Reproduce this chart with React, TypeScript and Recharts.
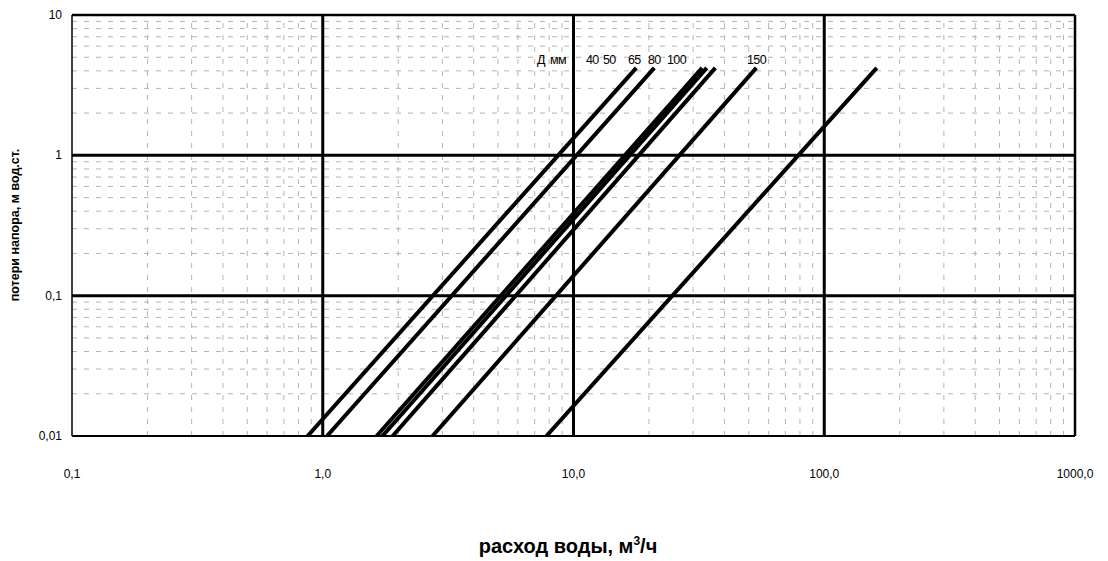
import React from 'react';
import { LineChart, Line, XAxis, YAxis, ReferenceLine } from 'recharts';

// расход воды (м3/ч) at the start (0,01 м) and at the top end of each line
const lineNames = ['40', '50', '65', '80', '80b', '100', '150'];
const flowAtStart = [0.87, 1.04, 1.64, 1.73, 1.9, 2.74, 7.8];
const flowAtEnd = [17.8, 21.0, 32.6, 34.0, 36.8, 53.6, 162];
const lossStart = 0.01;
const lossEnd = 4.2;

const xTicks = [0.1, 1, 10, 100, 1000];
const xTickLabels = ['0,1', '1,0', '10,0', '100,0', '1000,0'];
const yTicks = [0.01, 0.1, 1, 10];
const yTickLabels = ['0,01', '0,1', '1', '10'];

const minorSteps = [2, 3, 4, 5, 6, 7, 8, 9];
const xDecades = [0.1, 1, 10, 100];
const yDecades = [0.01, 0.1, 1];

const legendLabels = [
    { text: 'Д', left: 537 },
    { text: 'мм', left: 550 },
    { text: '40', left: 586 },
    { text: '50', left: 603 },
    { text: '65', left: 628 },
    { text: '80', left: 648 },
    { text: '100', left: 667 },
    { text: '150', left: 747 },
];

const font = '"Liberation Sans", Arial, sans-serif';

const seriesData = lineNames.map((name, i) => ({
    name,
    points: [
        { q: flowAtStart[i], h: lossStart },
        { q: flowAtEnd[i], h: lossEnd },
    ],
}));

const xMinor = xDecades.flatMap((d) => minorSteps.map((m) => d * m));
const yMinor = yDecades.flatMap((d) => minorSteps.map((m) => d * m));

const XTick = ({ x, y, payload }: any) => {
    const idx = xTicks.indexOf(payload.value);
    return (
        <text x={x} y={y + 40} textAnchor="middle" fontSize={12} fontFamily={font} fill="#000">
            {xTickLabels[idx]}
        </text>
    );
};

const YTick = ({ x, y, payload }: any) => {
    const idx = yTicks.indexOf(payload.value);
    return (
        <text x={x} y={y + 4} textAnchor="end" fontSize={12} fontFamily={font} fill="#000">
            {yTickLabels[idx]}
        </text>
    );
};

export default function App() {
    return (
        <div style={{ position: 'absolute', left: 0, top: 0, width: 1108, height: 561, background: '#fff', fontFamily: font }}>
            <LineChart width={1108} height={561} margin={{ top: 15, right: 33, left: 0, bottom: 0 }}>
                <XAxis
                    type="number"
                    dataKey="q"
                    scale="log"
                    domain={[0.1, 1000]}
                    ticks={xTicks}
                    allowDataOverflow
                    axisLine={false}
                    tickLine={false}
                    tickSize={0}
                    height={125}
                    tick={<XTick />}
                />
                <YAxis
                    type="number"
                    dataKey="h"
                    scale="log"
                    domain={[0.01, 10]}
                    ticks={yTicks}
                    allowDataOverflow
                    axisLine={false}
                    tickLine={false}
                    tickSize={0}
                    tickMargin={10}
                    width={72}
                    tick={<YTick />}
                />
                {xMinor.map((v) => (
                    <ReferenceLine key={'xm' + v} x={v} stroke="#b4b4b4" strokeWidth={1} strokeDasharray="5 7" />
                ))}
                {yMinor.map((v) => (
                    <ReferenceLine key={'ym' + v} y={v} stroke="#b4b4b4" strokeWidth={1} strokeDasharray="5 7" />
                ))}
                {[1, 10, 100].map((v) => (
                    <ReferenceLine key={'xM' + v} x={v} stroke="#000" strokeWidth={3} />
                ))}
                {[0.1, 1].map((v) => (
                    <ReferenceLine key={'yM' + v} y={v} stroke="#000" strokeWidth={3} />
                ))}
                <ReferenceLine x={0.1} stroke="#000" strokeWidth={1.5} />
                <ReferenceLine x={1000} stroke="#000" strokeWidth={2.5} />
                <ReferenceLine y={0.01} stroke="#000" strokeWidth={2} />
                <ReferenceLine y={10} stroke="#000" strokeWidth={2.5} />
                {seriesData.map((s) => (
                    <Line
                        key={s.name}
                        data={s.points}
                        dataKey="h"
                        type="linear"
                        stroke="#000"
                        strokeWidth={4}
                        dot={false}
                        isAnimationActive={false}
                    />
                ))}
            </LineChart>
            {legendLabels.map((l) => (
                <span
                    key={l.text + l.left}
                    style={{ position: 'absolute', left: l.left, top: 52, fontSize: 12.5, letterSpacing: -0.6, lineHeight: '16px', color: '#000' }}
                >
                    {l.text}
                </span>
            ))}
            <div
                style={{
                    position: 'absolute',
                    left: 15,
                    top: 225,
                    transform: 'translate(-50%, -50%) rotate(-90deg)',
                    whiteSpace: 'nowrap',
                    fontSize: 12.5,
                    fontWeight: 'bold',
                    color: '#000',
                }}
            >
                потери напора, м вод.ст.
            </div>
            <div
                style={{
                    position: 'absolute',
                    left: 568,
                    top: 546,
                    transform: 'translate(-50%, -50%)',
                    whiteSpace: 'nowrap',
                    fontSize: 20,
                    fontWeight: 'bold',
                    color: '#000',
                }}
            >
                расход воды, м<sup style={{ fontSize: 12 }}>3</sup>/ч
            </div>
        </div>
    );
}
